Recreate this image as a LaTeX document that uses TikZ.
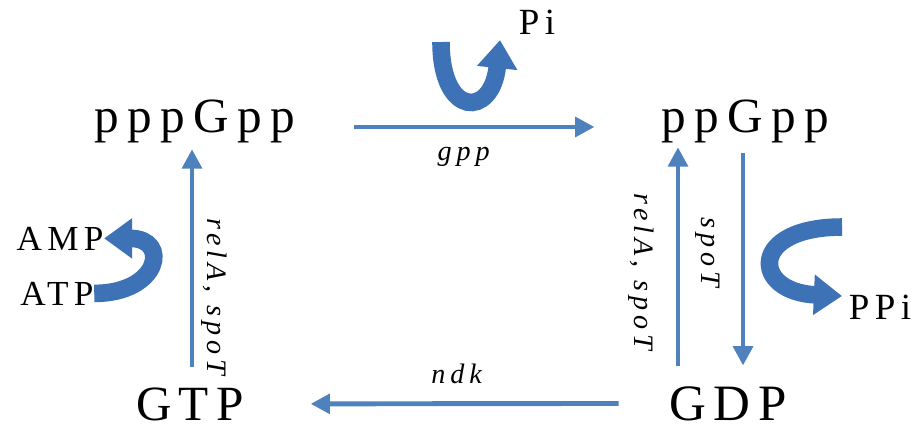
\documentclass[tikz,border=0pt]{standalone}
\usepackage{fontspec}
\setmainfont{Liberation Serif}
\newfontfamily\molfont[LetterSpace=17]{Liberation Serif}
\newfontfamily\capfont[LetterSpace=15]{Liberation Serif}
\newfontfamily\genefont[LetterSpace=18]{Liberation Serif}
\usetikzlibrary{arrows.meta}
\definecolor{flowblue}{HTML}{4F81BD}
\definecolor{ribbonblue}{HTML}{3E72B6}
\tikzset{
  flow/.style={draw=flowblue, line width=1.4pt, -{Triangle[width=5.5pt,length=5.5pt]}},
  ribbon/.style={draw=ribbonblue, line width=5pt, -{Triangle[width=11pt,length=8pt]}},
  mol/.style={anchor=base, inner sep=0pt},
  gene/.style={font=\genefont\itshape\fontsize{8}{9}\selectfont, inner sep=2pt},
}

\begin{document}
\begin{tikzpicture}[x=0.01cm,y=-0.01cm]
    \useasboundingbox (0,0) rectangle (913,426);

    \node[mol, font=\molfont\fontsize{14}{16}\selectfont] (pppGpp) at (195,132) {pppGpp} ;
    \node[mol, font=\molfont\fontsize{14}{16}\selectfont] (ppGpp) at (745,132) {ppGpp} ;
    \node[mol, font=\capfont\fontsize{14}{16}\selectfont] (GTP) at (190,420) {GTP} ;
    \node[mol, font=\capfont\fontsize{14.5}{16}\selectfont] (GDP) at (728,420) {GDP} ;
    \node[mol, font=\capfont\fontsize{10}{12}\selectfont] (AMP) at (60,250) {AMP} ;
    \node[mol, font=\capfont\fontsize{10}{12}\selectfont] (ATP) at (57,305) {ATP} ;
    \node[mol, font=\capfont\fontsize{10.5}{12}\selectfont] (Pi) at (537,34) {Pi} ;
    \node[mol, font=\capfont\fontsize{10.5}{12}\selectfont] (PPi) at (880,319) {PPi} ;
    \coordinate (piStart) at (441,42) ;
    \coordinate (piTip) at (500,40) ;
    \coordinate (ppiStart) at (842,227) ;
    \coordinate (ppiTip) at (842,296) ;

    % main cycle
    \draw[flow, shorten <=0.58cm, shorten >=0.66cm] ([yshift=-0.06cm]pppGpp.east) -- node[gene, below=3pt, pos=0.46] {gpp} ([yshift=-0.06cm]ppGpp.west) ;
    \draw[flow, shorten <=0.5cm, shorten >=0.66cm] (GDP.west) -- node[gene, above=3pt, pos=0.5] {ndk} (GTP.east) ;
    \draw[flow, shorten <=0.2cm, shorten >=0.06cm] ([xshift=0.02cm]GTP.north) -- node[gene, pos=0.37, anchor=south, rotate=-90] {relA, spoT} ([xshift=0.02cm]GTP.north |- pppGpp.south) ;
    \draw[flow, shorten <=0.2cm, shorten >=0.04cm] ([xshift=-0.5cm]GDP.north) -- node[gene, pos=0.47, anchor=north, inner ysep=6pt, rotate=-90] {relA, spoT} ([xshift=-0.5cm]GDP.north |- ppGpp.south) ;
    \draw[flow, shorten <=0.1cm, shorten >=0.2cm] ([xshift=0.15cm]GDP.north |- ppGpp.south) -- node[gene, pos=0.45, anchor=north, inner ysep=6pt, rotate=-90] {spoT} ([xshift=0.15cm]GDP.north) ;

    % side reactions
    \draw[ribbon] (ATP.east) .. controls +(66,0) and +(66,0) .. (AMP.east) ;
    \draw[ribbon] (piStart) .. controls (441,118) and (492,118) .. (piTip) ;
    \draw[ribbon] (ppiStart) .. controls (748,227) and (752,292) .. (ppiTip) ;
\end{tikzpicture}
\end{document}
